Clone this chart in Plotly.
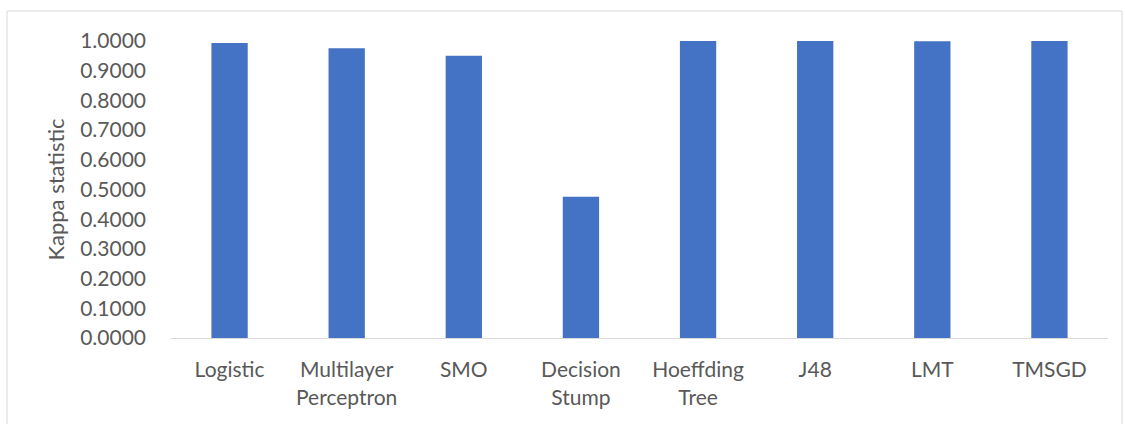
import plotly.graph_objects as go

# Classifiers and their Kappa statistic
classifiers = ["Logistic", "Multilayer<br>Perceptron", "SMO", "Decision<br>Stump",
               "Hoeffding<br>Tree", "J48", "LMT", "TMSGD"]
kappa = [0.9930, 0.9759, 0.9505, 0.4755, 1.0000, 1.0000, 0.9990, 1.0000]
y_ticks = [0.0, 0.1, 0.2, 0.3, 0.4, 0.5, 0.6, 0.7, 0.8, 0.9, 1.0]

W, H = 1125, 424
L, R, T, B = 171, 17, 41, 86
pw, ph = W - L - R, H - T - B


def px_to_paper_y(py):
    return (H - B - py) / ph


def px_to_paper_x(px):
    return (px - L) / pw


fig = go.Figure(go.Bar(
    x=classifiers, y=kappa,
    marker=dict(color="#4472C4", line=dict(width=0)),
))

font_family = "Lato, 'Open Sans', sans-serif"
grey = "#595959"

fig.update_layout(
    width=W, height=H,
    margin=dict(l=L, r=R, t=T, b=B, pad=0),
    paper_bgcolor="white", plot_bgcolor="white",
    bargap=0.69,
    showlegend=False,
    font=dict(family=font_family, color=grey, size=20),
    xaxis=dict(
        showgrid=False, zeroline=False,
        showline=True, linecolor="#d9d9d9", linewidth=1,
        ticks="", ticklabelstandoff=13,
        tickfont=dict(size=21, color=grey),
    ),
    yaxis=dict(
        range=[0, 1.0], tickvals=y_ticks,
        ticktext=[f"{v:.4f}" for v in y_ticks],
        showgrid=False, zeroline=False, showline=False,
        ticks="", ticklabelstandoff=24,
        tickfont=dict(size=21, color=grey),
        title=dict(text="Kappa statistic", font=dict(size=22, color=grey), standoff=9),
    ),
    shapes=[dict(
        type="rect", xref="paper", yref="paper",
        x0=px_to_paper_x(7), x1=px_to_paper_x(1122),
        y0=px_to_paper_y(430), y1=px_to_paper_y(11),
        line=dict(color="#d9d9d9", width=1), fillcolor="rgba(0,0,0,0)",
        layer="below",
    )],
)

fig.write_html("out.html")
